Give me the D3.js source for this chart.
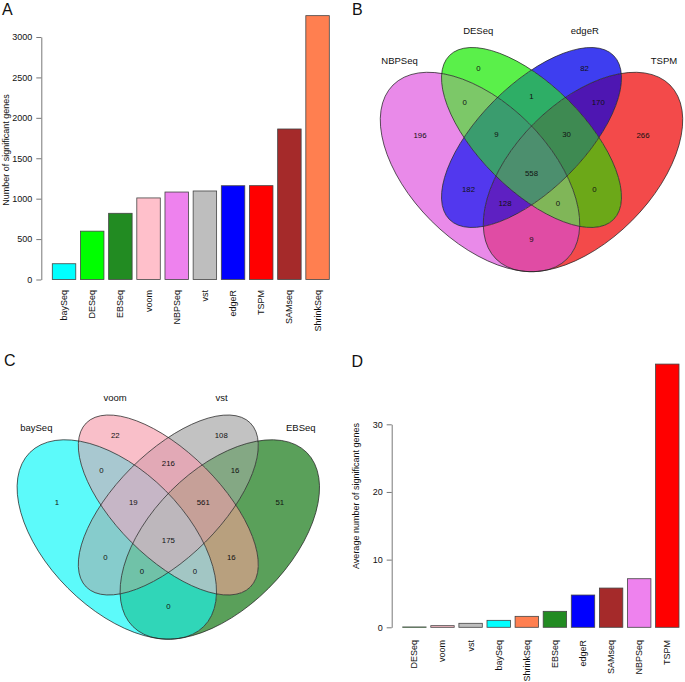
<!DOCTYPE html>
<html><head><meta charset="utf-8">
<script src="https://cdn.jsdelivr.net/npm/d3@7"></script>
<style>
body{margin:0;background:#fff}
svg{display:block}
text{font-family:"Liberation Sans",Arial,Helvetica,sans-serif;fill:#111}
</style>
</head><body><svg id="c" width="685" height="682"></svg>
<script>
// ---------- data ----------
const methodsA = ["baySeq","DESeq","EBSeq","voom","NBPSeq","vst","edgeR","TSPM","SAMseq","ShrinkSeq"];
const countsA  = [195, 598, 819, 1009, 1082, 1095, 1160, 1161, 1862, 3264];
const ticksA   = [0, 500, 1000, 1500, 2000, 2500, 3000];

const methodsD = ["DESeq","voom","vst","baySeq","ShrinkSeq","EBSeq","edgeR","SAMseq","NBPSeq","TSPM"];
const avgD     = [0.05, 0.24, 0.59, 1.03, 1.62, 2.36, 4.77, 5.8, 7.18, 38.9];
const ticksD   = [0, 10, 20, 30];

const methodColors = {baySeq:"#00FFFF", DESeq:"#00FF00", EBSeq:"#228B22", voom:"#FFC0CB",
  NBPSeq:"#EE82EE", vst:"#BEBEBE", edgeR:"#0000FF", TSPM:"#FF0000", SAMseq:"#A52A2A", ShrinkSeq:"#FF7F50"};

// region keys: A..D = the four sets in left-to-right order
const regionKeys   = ["A","B","C","D","AB","BC","CD","ABC","BCD","ABCD","AC","BD","ACD","ABD","AD"];
const vennBSets    = ["NBPSeq","DESeq","edgeR","TSPM"];
const vennBCounts  = [196, 0, 82, 266, 0, 1, 170, 9, 30, 558, 182, 0, 128, 0, 9];
const vennCSets    = ["baySeq","voom","vst","EBSeq"];
const vennCCounts  = [1, 22, 108, 51, 0, 216, 16, 19, 561, 175, 0, 16, 0, 0, 0];

// ---------- styles for the blended venn regions ----------
const regionColorsB = {A:"#E98AE9",B:"#5AF04A",C:"#3E3EF0",D:"#F34A4A",AB:"#7CC868",BC:"#2EAE66",
  CD:"#4E16B2",ABC:"#3A9C6E",BCD:"#3E8A52",ABCD:"#4C8F6E",AC:"#5238EE",BD:"#6CA818",
  ACD:"#5E20C2",ABD:"#80B658",AD:"#E04CA4"};
const regionColorsC = {A:"#5CFAFA",B:"#F9BFC9",C:"#C2C2C2",D:"#5AA05A",AB:"#A8C8D0",BC:"#E2A9B6",
  CD:"#84A884",ABC:"#C6B6C6",BCD:"#C6A098",ABCD:"#BDB7BC",AC:"#86CCCC",BD:"#B8A07E",
  ACD:"#70C2A8",ABD:"#A2C6C4",AD:"#30D6B8"};

// ---------- drawing ----------
const svg = d3.select("#c");
const defs = svg.append("defs");
const FONT = 9;

function barPanel(names, vals, ticks, cfg){
  const x = d3.scaleBand().domain(names).range(cfg.xr).paddingInner(0.1667).paddingOuter(0.0833);
  const y = d3.scaleLinear().domain([ticks[0], ticks[ticks.length-1]]).range(cfg.yr);
  const g = svg.append("g");
  g.selectAll("rect").data(names).enter().append("rect")
    .attr("x", d=>x(d)).attr("width", x.bandwidth())
    .attr("y", (d,i)=>y(vals[i])).attr("height", (d,i)=>y(0)-y(vals[i]))
    .attr("fill", d=>methodColors[d]).attr("stroke","#444").attr("stroke-width",0.8);
  const ax = g.append("g").attr("transform",`translate(${cfg.axisX},0)`)
    .call(d3.axisLeft(y).tickValues(ticks).tickFormat(d3.format("d")).tickSize(5).tickPadding(4).tickSizeOuter(0));
  ax.select(".domain").attr("stroke","#555").attr("stroke-width",0.8);
  ax.selectAll(".tick line").attr("stroke","#555").attr("stroke-width",0.8);
  ax.selectAll(".tick text").attr("font-size",FONT).attr("fill","#222")
    .style("font-family",'"Liberation Sans",Arial,sans-serif');
  g.selectAll("text.xl").data(names).enter().append("text").attr("class","xl")
    .attr("transform", d=>`translate(${x(d)+x.bandwidth()/2},${cfg.labelY}) rotate(-90)`)
    .attr("text-anchor","end").attr("dominant-baseline","central")
    .attr("font-size",FONT).text(d=>d);
  g.append("text").attr("transform",`translate(${cfg.titleX},${cfg.titleY}) rotate(-90)`)
    .attr("text-anchor","middle").attr("dominant-baseline","central")
    .attr("font-size",FONT).text(cfg.title);
}

barPanel(methodsA, countsA, ticksA, {xr:[49.95,331.65], yr:[279.5,37], axisX:41.3, labelY:290,
  titleX:5.5, titleY:150, title:"Number of significant genes"});
barPanel(methodsD, avgD, ticksD, {xr:[400.35,681.35], yr:[627.3,424.3], axisX:391.7, labelY:640,
  titleX:355.5, titleY:496, title:"Average number of significant genes"});

// Venn layout (offsets from the diagram's centre)
const ellipses = [
  {dx:-51.5, dy:34.5, a:123, b:69, rot:45},
  {dx:0, dy:0, a:116, b:52.4, rot:45},
  {dx:0, dy:0, a:116, b:52.4, rot:-45},
  {dx:51.5, dy:34.5, a:123, b:69, rot:-45}
];
const regionPos = {A:[-111.5,-2.5],B:[-53,-69.5],C:[53,-69.5],D:[111.5,-2.5],
  AB:[-66.8,-35],BC:[0,-41.5],CD:[66.8,-35],ABC:[-35,-2.6],BCD:[35,-2.6],ABCD:[0,35.5],
  AC:[-63,52.4],BD:[63,52.4],ACD:[-26.5,66.2],ABD:[26.5,66.2],AD:[0,101.8]};
const catPos = [[-132,-77.5],[-53.3,-107.5],[53.3,-107.5],[132.5,-77.5]];
const LET = "ABCD";

function ell(sel, e){
  return sel.append("ellipse").attr("cx",e.dx).attr("cy",e.dy).attr("rx",e.a).attr("ry",e.b)
    .attr("transform",`rotate(${e.rot},${e.dx},${e.dy})`);
}

function venn(id, sets, counts, regionColors, cx, cy){
  const g = svg.append("g").attr("transform",`translate(${cx},${cy})`);
  ellipses.forEach((e,i)=>{ ell(defs.append("clipPath").attr("id",`${id}c${i}`), e); });
  regionKeys.forEach(key=>{
    const inside = [...key].map(ch=>LET.indexOf(ch));
    const outside = [0,1,2,3].filter(i=>!inside.includes(i));
    let node = g;
    inside.forEach(i=>{ node = node.append("g").attr("clip-path",`url(#${id}c${i})`); });
    if (outside.length){
      const m = defs.append("mask").attr("id",`${id}m${key}`).attr("maskUnits","userSpaceOnUse")
        .attr("x",-250).attr("y",-250).attr("width",500).attr("height",500);
      m.append("rect").attr("x",-250).attr("y",-250).attr("width",500).attr("height",500).attr("fill","#fff");
      outside.forEach(i=>ell(m, ellipses[i]).attr("fill","#000"));
      node = node.append("g").attr("mask",`url(#${id}m${key})`);
    }
    node.append("rect").attr("x",-250).attr("y",-250).attr("width",500).attr("height",500)
      .attr("fill", regionColors[key]);
  });
  ellipses.forEach(e=>{ ell(g, e).attr("fill","none").attr("stroke","#222").attr("stroke-width",0.7); });
  g.selectAll("text.n").data(regionKeys).enter().append("text").attr("class","n")
    .attr("x",d=>regionPos[d][0]).attr("y",d=>regionPos[d][1])
    .attr("text-anchor","middle").attr("dominant-baseline","central")
    .attr("font-size",7.8).text((d,i)=>counts[i]);
  g.selectAll("text.cat").data(sets).enter().append("text").attr("class","cat")
    .attr("x",(d,i)=>catPos[i][0]).attr("y",(d,i)=>catPos[i][1])
    .attr("text-anchor","middle").attr("dominant-baseline","central")
    .attr("font-size",9.5).text(d=>d);
}
venn("vb", vennBSets, vennBCounts, regionColorsB, 531.5, 137.5);
venn("vc", vennCSets, vennCCounts, regionColorsC, 168.3, 505);

// panel letters
const letters = [["A",2,15],["B",352,15],["C",4,366],["D",351.5,366.5]];
svg.selectAll("text.lt").data(letters).enter().append("text").attr("class","lt")
  .attr("x",d=>d[1]).attr("y",d=>d[2]).attr("font-size",16).text(d=>d[0]);
</script>
</body></html>
